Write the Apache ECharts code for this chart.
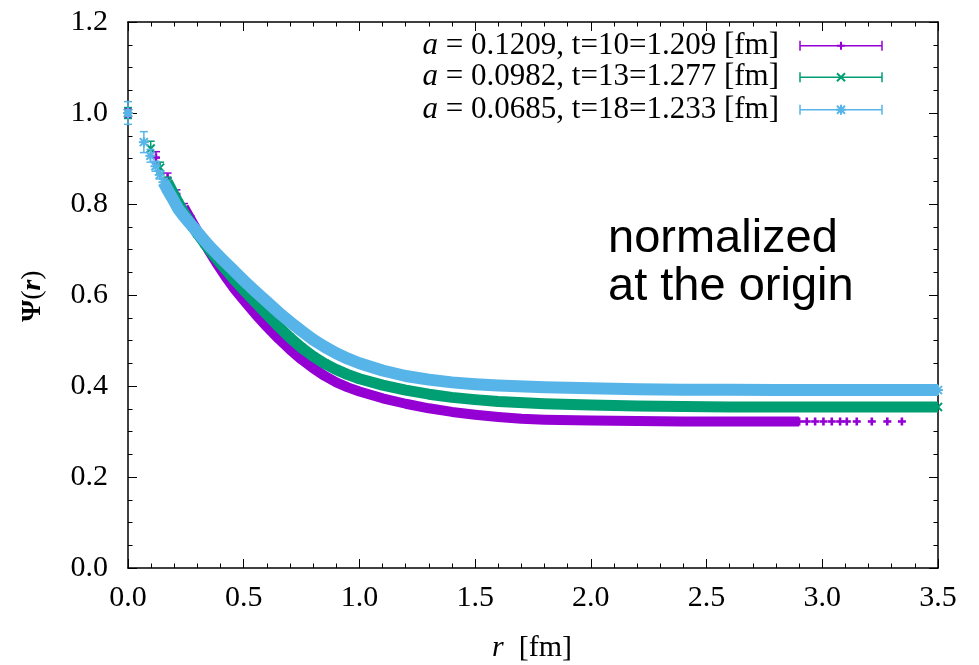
<!DOCTYPE html>
<html>
<head>
<meta charset="utf-8">
<script src="https://cdn.jsdelivr.net/npm/echarts@6/dist/echarts.min.js"></script>
<style>
  html, body { margin: 0; padding: 0; background: #fff; }
  #chart { width: 979px; height: 665px; }
</style>
</head>
<body>
<div id="chart"></div>
<script>
// Normalized wave functions Psi(r) for three lattice spacings.
const seriesLabels = [
  '{it|a} = 0.1209, t=10=1.209 [fm]',
  '{it|a} = 0.0982, t=13=1.277 [fm]',
  '{it|a} = 0.0685, t=18=1.233 [fm]'
];

const xTicks = [0, 0.5, 1.0, 1.5, 2.0, 2.5, 3.0, 3.5];
const yTicks = [0, 0.2, 0.4, 0.6, 0.8, 1.0, 1.2];

// a = 0.1209
const purpleR = [0, 0.1209, 0.1710, 0.2094, 0.2418, 0.2703, 0.2962, 0.32, 0.35, 0.38,
  0.42, 0.46, 0.50, 0.55, 0.60, 0.65, 0.70, 0.75, 0.80, 0.85,
  0.90, 0.95, 1.00, 1.10, 1.20, 1.30, 1.40, 1.50, 1.60, 1.70,
  1.80, 2.00, 2.20, 2.40, 2.60, 2.80, 2.90,
  2.933, 2.969, 3.005, 3.041, 3.077, 3.106, 3.149, 3.214, 3.281, 3.344];
const purplePsi = [1.000, 0.902, 0.857, 0.822, 0.793, 0.767, 0.744, 0.723, 0.697, 0.672,
  0.641, 0.613, 0.588, 0.558, 0.530, 0.504, 0.480, 0.458, 0.439, 0.422,
  0.408, 0.397, 0.388, 0.373, 0.361, 0.351, 0.343, 0.337, 0.332, 0.328,
  0.326, 0.324, 0.323, 0.322, 0.322, 0.322, 0.322,
  0.322, 0.322, 0.322, 0.322, 0.322, 0.322, 0.322, 0.322, 0.322, 0.322];
const purpleErr = [0.010, 0.013, 0.011, 0.009, 0.008, 0.007];

// a = 0.0982
const greenR = [0, 0.0982, 0.1389, 0.1701, 0.1964, 0.2196, 0.2405, 0.26, 0.28, 0.30,
  0.33, 0.36, 0.40, 0.45, 0.50, 0.55, 0.60, 0.65, 0.70, 0.75,
  0.80, 0.85, 0.90, 0.95, 1.00, 1.10, 1.20, 1.30, 1.40, 1.50,
  1.60, 1.80, 2.00, 2.20, 2.40, 2.60, 2.80, 3.00, 3.20, 3.40, 3.50];
const greenPsi = [1.000, 0.922, 0.880, 0.849, 0.823, 0.801, 0.782, 0.766, 0.750, 0.735,
  0.714, 0.694, 0.669, 0.639, 0.611, 0.584, 0.557, 0.531, 0.506, 0.484,
  0.465, 0.449, 0.436, 0.425, 0.416, 0.402, 0.391, 0.382, 0.375, 0.370,
  0.366, 0.361, 0.358, 0.356, 0.355, 0.354, 0.354, 0.354, 0.354, 0.354, 0.354];
const greenErr = [0.012, 0.016, 0.012, 0.010, 0.008, 0.007, 0.006];

// a = 0.0685
const blueR = [0, 0.0685, 0.0969, 0.1187, 0.1370, 0.1532, 0.1678, 0.1812, 0.1938, 0.2055,
  0.2166, 0.24, 0.26, 0.28, 0.30, 0.33, 0.36, 0.40, 0.45, 0.50,
  0.55, 0.60, 0.65, 0.70, 0.75, 0.80, 0.85, 0.90, 0.95, 1.00,
  1.10, 1.20, 1.30, 1.40, 1.50, 1.60, 1.80, 2.00, 2.20, 2.40,
  2.60, 2.80, 3.00, 3.20, 3.40, 3.50];
const bluePsi = [1.000, 0.936, 0.906, 0.883, 0.864, 0.848, 0.834, 0.822, 0.811, 0.800,
  0.790, 0.774, 0.762, 0.750, 0.738, 0.720, 0.703, 0.682, 0.657, 0.632,
  0.608, 0.585, 0.562, 0.541, 0.521, 0.502, 0.486, 0.472, 0.460, 0.450,
  0.434, 0.422, 0.414, 0.408, 0.404, 0.401, 0.397, 0.395, 0.393, 0.392,
  0.392, 0.391, 0.391, 0.391, 0.391, 0.391];
const blueErr = [0.025, 0.023, 0.014, 0.011, 0.009, 0.008, 0.007, 0.006, 0.006, 0.005, 0.005];

const COLORS = ['#9400d3', '#009e73', '#56b4e9'];
const SERIF = '"Liberation Serif", "Times New Roman", serif';
const SANS = '"Liberation Sans", Arial, sans-serif';

// dense part of each data set is drawn as a thick band
const sets = [
  { r: purpleR, psi: purplePsi, err: purpleErr, kind: 'plus',  half: 4, lw: 2.6, band: [4, 37], width: 10 },
  { r: greenR,  psi: greenPsi,  err: greenErr,  kind: 'cross', half: 4, lw: 2, band: [3, greenR.length], width: 11 },
  { r: blueR,   psi: bluePsi,   err: blueErr,   kind: 'star',  half: 5, lw: 2, band: [5, blueR.length], width: 12 }
];

function markLines(kind, cx, cy, h, style) {
  const out = [];
  const seg = (x1, y1, x2, y2) => out.push({ type: 'line', shape: { x1, y1, x2, y2 }, style });
  if (kind === 'plus' || kind === 'star') {
    seg(cx - h, cy, cx + h, cy);
    seg(cx, cy - h, cx, cy + h);
  }
  if (kind === 'cross' || kind === 'star') {
    const d = kind === 'star' ? h * 0.8 : h;
    seg(cx - d, cy - d, cx + d, cy + d);
    seg(cx - d, cy + d, cx + d, cy - d);
  }
  return out;
}

function pointRenderer(kind, color, half, lw) {
  return function (params, api) {
    const r = api.value(0), v = api.value(1), e = api.value(2);
    const c = api.coord([r, v]);
    const st = { stroke: color, lineWidth: lw };
    const bar = { stroke: color, lineWidth: 1.5 };
    let kids = [];
    if (e > 0) {
      const t = api.coord([r, v + e]), b = api.coord([r, v - e]);
      kids.push({ type: 'line', shape: { x1: c[0], y1: t[1], x2: c[0], y2: b[1] }, style: bar });
      kids.push({ type: 'line', shape: { x1: c[0] - 4, y1: t[1], x2: c[0] + 4, y2: t[1] }, style: bar });
      kids.push({ type: 'line', shape: { x1: c[0] - 4, y1: b[1], x2: c[0] + 4, y2: b[1] }, style: bar });
    }
    kids = kids.concat(markLines(kind, c[0], c[1], half, st));
    return { type: 'group', children: kids };
  };
}

const series = [];
sets.forEach((s, k) => {
  const color = COLORS[k];
  series.push({
    type: 'line',
    xAxisIndex: 0, yAxisIndex: 0,
    data: s.r.slice(s.band[0], s.band[1]).map((r, i) => [r, s.psi[s.band[0] + i]]),
    showSymbol: false, symbol: 'none',
    lineStyle: { color, width: s.width, cap: 'butt', join: 'round' },
    silent: true, animation: false, clip: true
  });
  series.push({
    type: 'custom',
    xAxisIndex: 0, yAxisIndex: 0,
    data: s.r.map((r, i) => [r, s.psi[i], s.err[i] || 0]),
    renderItem: pointRenderer(s.kind, color, s.half, s.lw),
    silent: true, animation: false, clip: false
  });
});

// legend: right-aligned text with an error-bar sample to its right
const legendRows = [45.7, 77.3, 109.7];
const graphics = [];
sets.forEach((s, k) => {
  const y = legendRows[k];
  const color = COLORS[k];
  graphics.push({
    type: 'text', x: 779, y: y,
    style: {
      text: seriesLabels[k], fill: '#000', font: '31px ' + SERIF,
      align: 'right', verticalAlign: 'middle',
      rich: { it: { fontStyle: 'italic', fontSize: 31, fontFamily: SERIF, fill: '#000' } }
    }
  });
  const st = { stroke: color, lineWidth: 1.5 };
  const kids = [
    { type: 'line', shape: { x1: 800, y1: y, x2: 882, y2: y }, style: st },
    { type: 'line', shape: { x1: 800, y1: y - 5, x2: 800, y2: y + 5 }, style: st },
    { type: 'line', shape: { x1: 882, y1: y - 5, x2: 882, y2: y + 5 }, style: st }
  ].concat(markLines(s.kind, 841, y, s.half, { stroke: color, lineWidth: 2 }));
  graphics.push({ type: 'group', children: kids });
});

graphics.push({
  type: 'text', x: 608, y: 263,
  style: {
    text: 'normalized\nat the origin', fill: '#000', font: '47px ' + SANS,
    align: 'left', verticalAlign: 'middle', lineHeight: 48
  }
});
graphics.push({
  type: 'text', x: 532, y: 648,
  style: {
    text: '{i|r}  [fm]', fill: '#000', font: '30px ' + SERIF,
    align: 'center', verticalAlign: 'middle',
    rich: { i: { fontStyle: 'italic', fontSize: 30, fontFamily: SERIF, fill: '#000' } }
  }
});
graphics.push({
  type: 'text', x: 33, y: 296, rotation: Math.PI / 2,
  style: {
    text: '{b|Ψ}{n|(}{bi|r}{n|)}', fill: '#000', font: '28px ' + SERIF,
    align: 'center', verticalAlign: 'middle',
    rich: {
      b: { fontWeight: 'bold', fontSize: 28, fontFamily: SERIF, fill: '#000' },
      n: { fontSize: 28, fontFamily: SERIF, fill: '#000' },
      bi: { fontWeight: 'bold', fontStyle: 'italic', fontSize: 28, fontFamily: SERIF, fill: '#000' }
    }
  }
});

const frameLine = { show: true, onZero: false, lineStyle: { color: '#000', width: 1.5 } };
const tick = { show: true, inside: true, length: 9, lineStyle: { color: '#000', width: 1 } };
const labelStyle = { color: '#000', fontFamily: SERIF, fontSize: 30, lineHeight: 30 };

function xAxis(pos, showLabels) {
  return {
    type: 'value', position: pos, min: xTicks[0], max: xTicks[xTicks.length - 1],
    interval: xTicks[1] - xTicks[0],
    axisLine: frameLine, axisTick: tick,
    minorTick: { show: true, splitNumber: 5, length: 4.5, lineStyle: { color: '#000', width: 1 } },
    splitLine: { show: false }, minorSplitLine: { show: false },
    axisLabel: Object.assign({ show: showLabels, margin: 15, formatter: v => v.toFixed(1) }, labelStyle)
  };
}
function yAxis(pos, showLabels) {
  return {
    type: 'value', position: pos, min: yTicks[0], max: yTicks[yTicks.length - 1],
    interval: yTicks[1] - yTicks[0],
    axisLine: frameLine, axisTick: tick,
    minorTick: { show: true, splitNumber: 4, length: 4.5, lineStyle: { color: '#000', width: 1 } },
    splitLine: { show: false }, minorSplitLine: { show: false },
    axisLabel: Object.assign({ show: showLabels, margin: 20, formatter: v => v.toFixed(1) }, labelStyle)
  };
}

const chart = echarts.init(document.getElementById('chart'), null, { renderer: 'canvas' });
chart.setOption({
  backgroundColor: '#fff',
  animation: false,
  grid: { left: 128, right: 41, top: 22, bottom: 97, containLabel: false },
  xAxis: [xAxis('bottom', true), xAxis('top', false)],
  yAxis: [yAxis('left', true), yAxis('right', false)],
  series: series,
  graphic: graphics
});
</script>
</body>
</html>
